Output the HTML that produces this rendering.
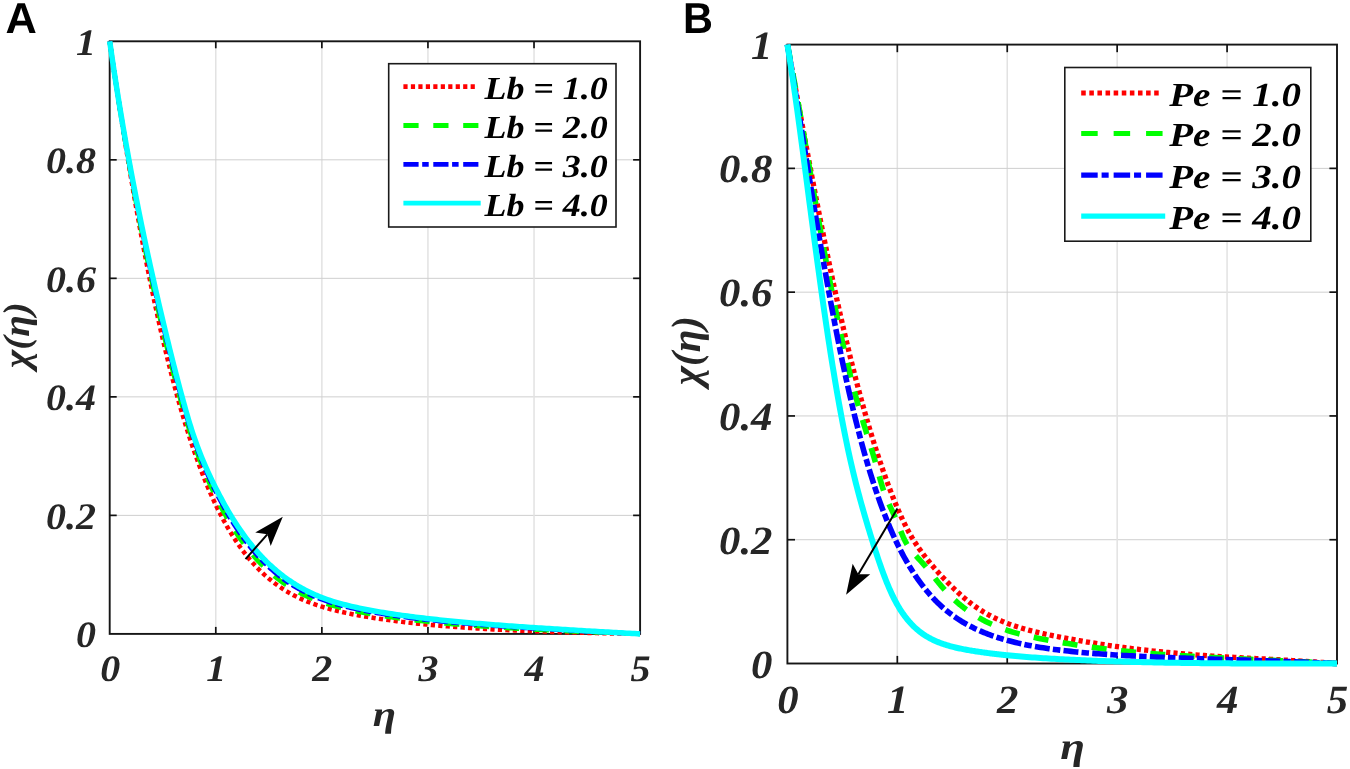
<!DOCTYPE html>
<html lang="en"><head><meta charset="utf-8"><title>Figure</title>
<style>
html,body{margin:0;padding:0;background:#fff;}
body{width:1350px;height:769px;overflow:hidden;}
svg{display:block;}
text{text-rendering:geometricPrecision;}
.gv{stroke:#e2e2e2;stroke-width:1.5;}
.gh{stroke:#cfcfcf;stroke-width:1.0;}
.frame{fill:none;stroke:#161616;stroke-width:1.9;}
.tick{stroke:#111;stroke-width:1.7;}
.tl{font-family:"Liberation Serif", "DejaVu Serif", serif;font-weight:bold;font-style:italic;fill:#262626;}
.lt{font-family:"Liberation Serif", "DejaVu Serif", serif;font-weight:bold;font-style:italic;fill:#000;}
.pl{font-family:"Liberation Sans", "DejaVu Sans", sans-serif;font-weight:bold;fill:#000;}
.cv{fill:none;stroke-linejoin:round;}
.lbox{fill:#fff;stroke:#1a1a1a;stroke-width:1.6;}
</style></head><body>
<svg width="1350" height="769" viewBox="0 0 1350 769">
<rect width="1350" height="769" fill="#fff"/>

<g id="panelA">
<line x1="215.78" y1="41.3" x2="215.78" y2="633.9" class="gv"/>
<line x1="109.7" y1="515.38" x2="640.1" y2="515.38" class="gh"/>
<line x1="321.86" y1="41.3" x2="321.86" y2="633.9" class="gv"/>
<line x1="109.7" y1="396.86" x2="640.1" y2="396.86" class="gh"/>
<line x1="427.94" y1="41.3" x2="427.94" y2="633.9" class="gv"/>
<line x1="109.7" y1="278.34" x2="640.1" y2="278.34" class="gh"/>
<line x1="534.02" y1="41.3" x2="534.02" y2="633.9" class="gv"/>
<line x1="109.7" y1="159.82" x2="640.1" y2="159.82" class="gh"/>
<rect x="109.7" y="41.3" width="530.40" height="592.60" class="frame"/>
<line x1="215.78" y1="633.9" x2="215.78" y2="626.9" class="tick"/>
<line x1="215.78" y1="41.3" x2="215.78" y2="48.3" class="tick"/>
<line x1="109.7" y1="515.38" x2="116.7" y2="515.38" class="tick"/>
<line x1="640.1" y1="515.38" x2="633.1" y2="515.38" class="tick"/>
<line x1="321.86" y1="633.9" x2="321.86" y2="626.9" class="tick"/>
<line x1="321.86" y1="41.3" x2="321.86" y2="48.3" class="tick"/>
<line x1="109.7" y1="396.86" x2="116.7" y2="396.86" class="tick"/>
<line x1="640.1" y1="396.86" x2="633.1" y2="396.86" class="tick"/>
<line x1="427.94" y1="633.9" x2="427.94" y2="626.9" class="tick"/>
<line x1="427.94" y1="41.3" x2="427.94" y2="48.3" class="tick"/>
<line x1="109.7" y1="278.34" x2="116.7" y2="278.34" class="tick"/>
<line x1="640.1" y1="278.34" x2="633.1" y2="278.34" class="tick"/>
<line x1="534.02" y1="633.9" x2="534.02" y2="626.9" class="tick"/>
<line x1="534.02" y1="41.3" x2="534.02" y2="48.3" class="tick"/>
<line x1="109.7" y1="159.82" x2="116.7" y2="159.82" class="tick"/>
<line x1="640.1" y1="159.82" x2="633.1" y2="159.82" class="tick"/>
<path d="M109.70 41.30 L110.77 48.65 L111.83 55.94 L112.90 63.18 L113.96 70.37 L115.03 77.51 L116.10 84.60 L117.16 91.63 L118.23 98.61 L119.30 105.53 L120.36 112.39 L121.43 119.21 L122.49 125.96 L123.56 132.66 L124.63 139.31 L125.69 145.89 L126.76 152.43 L127.82 158.90 L128.89 165.32 L129.96 171.68 L131.02 177.98 L132.09 184.22 L133.15 190.41 L134.22 196.53 L135.29 202.60 L136.35 208.62 L137.42 214.57 L138.49 220.47 L139.55 226.30 L140.62 232.08 L141.68 237.80 L142.75 243.47 L143.82 249.07 L144.88 254.62 L145.95 260.10 L147.01 265.54 L148.08 270.91 L149.15 276.22 L150.21 281.48 L151.28 286.68 L152.35 291.83 L153.41 296.91 L154.48 301.94 L155.54 306.91 L156.61 311.83 L157.68 316.69 L158.74 321.49 L159.81 326.24 L160.87 330.94 L161.94 335.57 L163.01 340.16 L164.07 344.69 L165.14 349.16 L166.20 353.58 L167.27 357.95 L168.34 362.26 L169.40 366.52 L170.47 370.73 L171.54 374.88 L172.60 378.98 L173.67 383.03 L174.73 387.03 L175.80 390.98 L176.87 394.88 L177.93 398.73 L179.00 402.52 L180.06 406.27 L181.13 409.97 L182.20 413.62 L183.26 417.21 L184.33 420.76 L185.40 424.26 L186.46 427.72 L187.53 431.12 L188.59 434.47 L189.66 437.78 L190.73 441.04 L191.79 444.25 L192.86 447.42 L193.92 450.54 L194.99 453.61 L196.06 456.64 L197.12 459.62 L198.19 462.56 L199.25 465.45 L200.32 468.30 L201.39 471.10 L202.45 473.86 L203.52 476.58 L204.59 479.25 L205.65 481.88 L206.72 484.47 L207.78 487.02 L208.85 489.53 L209.92 492.00 L210.98 494.43 L212.05 496.81 L213.11 499.16 L214.18 501.47 L215.25 503.74 L216.31 505.98 L217.38 508.17 L218.45 510.33 L219.51 512.46 L220.58 514.55 L221.64 516.60 L222.71 518.61 L223.78 520.60 L224.84 522.55 L225.91 524.46 L226.97 526.34 L228.04 528.19 L229.11 530.01 L230.17 531.79 L231.24 533.54 L232.31 535.27 L233.37 536.96 L234.44 538.62 L235.50 540.25 L236.57 541.85 L237.64 543.43 L238.70 544.97 L239.77 546.49 L240.83 547.98 L241.90 549.45 L242.97 550.88 L244.03 552.29 L245.10 553.68 L246.16 555.03 L247.23 556.37 L248.30 557.68 L249.36 558.96 L250.43 560.22 L251.50 561.46 L252.56 562.67 L253.63 563.86 L254.69 565.03 L255.76 566.18 L256.83 567.30 L257.89 568.41 L258.96 569.49 L260.02 570.55 L261.09 571.59 L262.16 572.61 L263.22 573.62 L264.29 574.60 L265.36 575.56 L266.42 576.51 L267.49 577.44 L268.55 578.35 L269.62 579.24 L270.69 580.11 L271.75 580.97 L272.82 581.81 L273.88 582.63 L274.95 583.44 L276.02 584.24 L277.08 585.01 L278.15 585.77 L279.21 586.52 L280.28 587.25 L281.35 587.97 L282.41 588.67 L283.48 589.36 L284.55 590.04 L285.61 590.70 L286.68 591.35 L287.74 591.98 L288.81 592.60 L289.88 593.21 L290.94 593.81 L292.01 594.39 L293.07 594.97 L294.14 595.53 L295.21 596.08 L296.27 596.61 L297.34 597.14 L298.41 597.66 L299.47 598.16 L300.54 598.65 L301.60 599.14 L302.67 599.61 L303.74 600.07 L304.80 600.53 L305.87 600.97 L306.93 601.41 L308.00 601.84 L309.07 602.26 L310.13 602.67 L311.20 603.07 L312.26 603.46 L313.33 603.85 L314.40 604.23 L315.46 604.60 L316.53 604.97 L317.60 605.33 L318.66 605.68 L319.73 606.02 L320.79 606.36 L321.86 606.69 L324.53 607.50 L327.21 608.28 L329.88 609.02 L332.56 609.72 L335.23 610.40 L337.91 611.06 L340.58 611.68 L343.25 612.29 L345.93 612.87 L348.60 613.43 L351.28 613.97 L353.95 614.50 L356.63 615.01 L359.30 615.50 L361.97 615.98 L364.65 616.45 L367.32 616.90 L370.00 617.34 L372.67 617.77 L375.35 618.19 L378.02 618.60 L380.69 619.00 L383.37 619.39 L386.04 619.77 L388.72 620.14 L391.39 620.50 L394.07 620.86 L396.74 621.20 L399.41 621.53 L402.09 621.86 L404.76 622.18 L407.44 622.49 L410.11 622.79 L412.79 623.09 L415.46 623.38 L418.13 623.66 L420.81 623.94 L423.48 624.21 L426.16 624.47 L428.83 624.73 L431.51 624.98 L434.18 625.22 L436.85 625.46 L439.53 625.69 L442.20 625.92 L444.88 626.14 L447.55 626.36 L450.23 626.57 L452.90 626.78 L455.57 626.98 L458.25 627.18 L460.92 627.37 L463.60 627.56 L466.27 627.75 L468.95 627.93 L471.62 628.10 L474.29 628.28 L476.97 628.44 L479.64 628.61 L482.32 628.77 L484.99 628.93 L487.67 629.08 L490.34 629.23 L493.01 629.38 L495.69 629.52 L498.36 629.66 L501.04 629.80 L503.71 629.93 L506.39 630.06 L509.06 630.19 L511.73 630.32 L514.41 630.44 L517.08 630.56 L519.76 630.67 L522.43 630.79 L525.11 630.90 L527.78 631.01 L530.45 631.12 L533.13 631.22 L535.80 631.32 L538.48 631.42 L541.15 631.52 L543.83 631.62 L546.50 631.71 L549.17 631.80 L551.85 631.89 L554.52 631.98 L557.20 632.06 L559.87 632.14 L562.55 632.22 L565.22 632.30 L567.89 632.38 L570.57 632.46 L573.24 632.53 L575.92 632.60 L578.59 632.67 L581.27 632.74 L583.94 632.81 L586.61 632.88 L589.29 632.94 L591.96 633.00 L594.64 633.06 L597.31 633.12 L599.99 633.18 L602.66 633.24 L605.33 633.29 L608.01 633.35 L610.68 633.40 L613.36 633.45 L616.03 633.50 L618.71 633.55 L621.38 633.60 L624.05 633.65 L626.73 633.69 L629.40 633.73 L632.08 633.78 L634.75 633.82 L637.43 633.86 L640.10 633.90" stroke="#ff0000" stroke-width="4.5" stroke-dasharray="4.20 3.27" class="cv"/>
<path d="M109.70 41.30 L110.77 48.68 L111.83 55.98 L112.90 63.20 L113.96 70.34 L115.03 77.40 L116.10 84.38 L117.16 91.28 L118.23 98.12 L119.30 104.87 L120.36 111.56 L121.43 118.18 L122.49 124.72 L123.56 131.20 L124.63 137.61 L125.69 143.96 L126.76 150.24 L127.82 156.45 L128.89 162.61 L129.96 168.70 L131.02 174.73 L132.09 180.70 L133.15 186.61 L134.22 192.47 L135.29 198.26 L136.35 204.00 L137.42 209.69 L138.49 215.32 L139.55 220.89 L140.62 226.42 L141.68 231.89 L142.75 237.30 L143.82 242.67 L144.88 247.98 L145.95 253.25 L147.01 258.47 L148.08 263.63 L149.15 268.75 L150.21 273.82 L151.28 278.85 L152.35 283.83 L153.41 288.76 L154.48 293.65 L155.54 298.49 L156.61 303.29 L157.68 308.04 L158.74 312.75 L159.81 317.41 L160.87 322.04 L161.94 326.62 L163.01 331.16 L164.07 335.66 L165.14 340.11 L166.20 344.53 L167.27 348.90 L168.34 353.24 L169.40 357.53 L170.47 361.78 L171.54 365.99 L172.60 370.16 L173.67 374.29 L174.73 378.37 L175.80 382.42 L176.87 386.42 L177.93 390.38 L179.00 394.29 L180.06 398.17 L181.13 402.00 L182.20 405.78 L183.26 409.53 L184.33 413.23 L185.40 416.88 L186.46 420.48 L187.53 424.02 L188.59 427.50 L189.66 430.92 L190.73 434.26 L191.79 437.53 L192.86 440.74 L193.92 443.87 L194.99 446.95 L196.06 449.96 L197.12 452.91 L198.19 455.81 L199.25 458.65 L200.32 461.43 L201.39 464.17 L202.45 466.85 L203.52 469.49 L204.59 472.08 L205.65 474.62 L206.72 477.13 L207.78 479.59 L208.85 482.01 L209.92 484.39 L210.98 486.73 L212.05 489.04 L213.11 491.31 L214.18 493.55 L215.25 495.76 L216.31 497.93 L217.38 500.08 L218.45 502.19 L219.51 504.27 L220.58 506.32 L221.64 508.34 L222.71 510.34 L223.78 512.30 L224.84 514.23 L225.91 516.13 L226.97 518.00 L228.04 519.85 L229.11 521.66 L230.17 523.45 L231.24 525.20 L232.31 526.93 L233.37 528.63 L234.44 530.30 L235.50 531.95 L236.57 533.57 L237.64 535.16 L238.70 536.73 L239.77 538.27 L240.83 539.78 L241.90 541.27 L242.97 542.74 L244.03 544.18 L245.10 545.60 L246.16 546.99 L247.23 548.36 L248.30 549.70 L249.36 551.03 L250.43 552.33 L251.50 553.61 L252.56 554.86 L253.63 556.10 L254.69 557.31 L255.76 558.50 L256.83 559.68 L257.89 560.83 L258.96 561.96 L260.02 563.07 L261.09 564.16 L262.16 565.24 L263.22 566.29 L264.29 567.33 L265.36 568.34 L266.42 569.34 L267.49 570.32 L268.55 571.29 L269.62 572.24 L270.69 573.17 L271.75 574.08 L272.82 574.98 L273.88 575.86 L274.95 576.72 L276.02 577.57 L277.08 578.41 L278.15 579.22 L279.21 580.03 L280.28 580.82 L281.35 581.59 L282.41 582.35 L283.48 583.10 L284.55 583.83 L285.61 584.55 L286.68 585.26 L287.74 585.95 L288.81 586.63 L289.88 587.30 L290.94 587.95 L292.01 588.59 L293.07 589.22 L294.14 589.84 L295.21 590.44 L296.27 591.04 L297.34 591.62 L298.41 592.19 L299.47 592.75 L300.54 593.30 L301.60 593.84 L302.67 594.37 L303.74 594.88 L304.80 595.39 L305.87 595.89 L306.93 596.38 L308.00 596.86 L309.07 597.33 L310.13 597.79 L311.20 598.24 L312.26 598.68 L313.33 599.12 L314.40 599.54 L315.46 599.96 L316.53 600.37 L317.60 600.77 L318.66 601.16 L319.73 601.55 L320.79 601.93 L321.86 602.30 L324.53 603.20 L327.21 604.06 L329.88 604.88 L332.56 605.66 L335.23 606.41 L337.91 607.12 L340.58 607.81 L343.25 608.47 L345.93 609.10 L348.60 609.71 L351.28 610.30 L353.95 610.87 L356.63 611.41 L359.30 611.94 L361.97 612.46 L364.65 612.96 L367.32 613.45 L370.00 613.92 L372.67 614.38 L375.35 614.83 L378.02 615.27 L380.69 615.69 L383.37 616.11 L386.04 616.51 L388.72 616.91 L391.39 617.30 L394.07 617.67 L396.74 618.04 L399.41 618.40 L402.09 618.75 L404.76 619.09 L407.44 619.42 L410.11 619.75 L412.79 620.07 L415.46 620.38 L418.13 620.68 L420.81 620.98 L423.48 621.27 L426.16 621.56 L428.83 621.84 L431.51 622.11 L434.18 622.38 L436.85 622.64 L439.53 622.90 L442.20 623.15 L444.88 623.40 L447.55 623.64 L450.23 623.88 L452.90 624.11 L455.57 624.34 L458.25 624.56 L460.92 624.78 L463.60 625.00 L466.27 625.21 L468.95 625.41 L471.62 625.62 L474.29 625.82 L476.97 626.01 L479.64 626.21 L482.32 626.40 L484.99 626.58 L487.67 626.77 L490.34 626.95 L493.01 627.12 L495.69 627.30 L498.36 627.47 L501.04 627.64 L503.71 627.80 L506.39 627.96 L509.06 628.12 L511.73 628.28 L514.41 628.44 L517.08 628.59 L519.76 628.74 L522.43 628.89 L525.11 629.04 L527.78 629.18 L530.45 629.32 L533.13 629.46 L535.80 629.60 L538.48 629.74 L541.15 629.87 L543.83 630.01 L546.50 630.14 L549.17 630.27 L551.85 630.39 L554.52 630.52 L557.20 630.64 L559.87 630.77 L562.55 630.89 L565.22 631.01 L567.89 631.13 L570.57 631.24 L573.24 631.36 L575.92 631.47 L578.59 631.59 L581.27 631.70 L583.94 631.81 L586.61 631.92 L589.29 632.03 L591.96 632.14 L594.64 632.24 L597.31 632.35 L599.99 632.45 L602.66 632.55 L605.33 632.66 L608.01 632.76 L610.68 632.86 L613.36 632.96 L616.03 633.06 L618.71 633.15 L621.38 633.25 L624.05 633.34 L626.73 633.44 L629.40 633.53 L632.08 633.63 L634.75 633.72 L637.43 633.81 L640.10 633.90" stroke="#00ff00" stroke-width="4.6" stroke-dasharray="15.20 14.70" class="cv"/>
<path d="M109.70 41.30 L110.77 48.71 L111.83 56.01 L112.90 63.21 L113.96 70.31 L115.03 77.32 L116.10 84.24 L117.16 91.06 L118.23 97.80 L119.30 104.45 L120.36 111.02 L121.43 117.51 L122.49 123.92 L123.56 130.26 L124.63 136.52 L125.69 142.71 L126.76 148.83 L127.82 154.88 L128.89 160.86 L129.96 166.78 L131.02 172.64 L132.09 178.43 L133.15 184.17 L134.22 189.84 L135.29 195.46 L136.35 201.03 L137.42 206.54 L138.49 211.99 L139.55 217.40 L140.62 222.76 L141.68 228.06 L142.75 233.32 L143.82 238.53 L144.88 243.70 L145.95 248.82 L147.01 253.90 L148.08 258.93 L149.15 263.93 L150.21 268.88 L151.28 273.79 L152.35 278.66 L153.41 283.49 L154.48 288.29 L155.54 293.05 L156.61 297.77 L157.68 302.45 L158.74 307.10 L159.81 311.71 L160.87 316.29 L161.94 320.84 L163.01 325.35 L164.07 329.83 L165.14 334.27 L166.20 338.68 L167.27 343.06 L168.34 347.41 L169.40 351.73 L170.47 356.01 L171.54 360.25 L172.60 364.46 L173.67 368.64 L174.73 372.78 L175.80 376.88 L176.87 380.95 L177.93 384.98 L179.00 388.98 L180.06 392.93 L181.13 396.85 L182.20 400.73 L183.26 404.56 L184.33 408.36 L185.40 412.11 L186.46 415.81 L187.53 419.44 L188.59 423.00 L189.66 426.48 L190.73 429.88 L191.79 433.19 L192.86 436.42 L193.92 439.57 L194.99 442.64 L196.06 445.64 L197.12 448.58 L198.19 451.45 L199.25 454.25 L200.32 457.00 L201.39 459.69 L202.45 462.32 L203.52 464.91 L204.59 467.45 L205.65 469.94 L206.72 472.38 L207.78 474.78 L208.85 477.15 L209.92 479.47 L210.98 481.76 L212.05 484.02 L213.11 486.24 L214.18 488.44 L215.25 490.60 L216.31 492.74 L217.38 494.85 L218.45 496.93 L219.51 498.98 L220.58 501.01 L221.64 503.01 L222.71 504.99 L223.78 506.94 L224.84 508.86 L225.91 510.75 L226.97 512.62 L228.04 514.46 L229.11 516.27 L230.17 518.05 L231.24 519.81 L232.31 521.55 L233.37 523.25 L234.44 524.93 L235.50 526.59 L236.57 528.22 L237.64 529.82 L238.70 531.40 L239.77 532.96 L240.83 534.49 L241.90 536.00 L242.97 537.48 L244.03 538.94 L245.10 540.38 L246.16 541.79 L247.23 543.19 L248.30 544.56 L249.36 545.90 L250.43 547.23 L251.50 548.53 L252.56 549.82 L253.63 551.08 L254.69 552.32 L255.76 553.55 L256.83 554.75 L257.89 555.93 L258.96 557.09 L260.02 558.24 L261.09 559.36 L262.16 560.47 L263.22 561.56 L264.29 562.63 L265.36 563.68 L266.42 564.71 L267.49 565.73 L268.55 566.73 L269.62 567.71 L270.69 568.68 L271.75 569.63 L272.82 570.56 L273.88 571.48 L274.95 572.38 L276.02 573.27 L277.08 574.14 L278.15 575.00 L279.21 575.84 L280.28 576.66 L281.35 577.47 L282.41 578.27 L283.48 579.06 L284.55 579.83 L285.61 580.58 L286.68 581.32 L287.74 582.05 L288.81 582.77 L289.88 583.47 L290.94 584.17 L292.01 584.84 L293.07 585.51 L294.14 586.16 L295.21 586.81 L296.27 587.44 L297.34 588.06 L298.41 588.66 L299.47 589.26 L300.54 589.84 L301.60 590.42 L302.67 590.98 L303.74 591.53 L304.80 592.08 L305.87 592.61 L306.93 593.13 L308.00 593.64 L309.07 594.14 L310.13 594.64 L311.20 595.12 L312.26 595.59 L313.33 596.06 L314.40 596.51 L315.46 596.96 L316.53 597.40 L317.60 597.83 L318.66 598.25 L319.73 598.66 L320.79 599.07 L321.86 599.46 L324.53 600.42 L327.21 601.34 L329.88 602.21 L332.56 603.04 L335.23 603.83 L337.91 604.58 L340.58 605.31 L343.25 606.00 L345.93 606.67 L348.60 607.31 L351.28 607.92 L353.95 608.52 L356.63 609.09 L359.30 609.65 L361.97 610.18 L364.65 610.71 L367.32 611.21 L370.00 611.71 L372.67 612.19 L375.35 612.66 L378.02 613.11 L380.69 613.56 L383.37 613.99 L386.04 614.41 L388.72 614.82 L391.39 615.22 L394.07 615.62 L396.74 616.00 L399.41 616.37 L402.09 616.74 L404.76 617.09 L407.44 617.44 L410.11 617.78 L412.79 618.11 L415.46 618.44 L418.13 618.76 L420.81 619.07 L423.48 619.38 L426.16 619.68 L428.83 619.97 L431.51 620.26 L434.18 620.54 L436.85 620.82 L439.53 621.09 L442.20 621.36 L444.88 621.62 L447.55 621.88 L450.23 622.14 L452.90 622.38 L455.57 622.63 L458.25 622.87 L460.92 623.11 L463.60 623.34 L466.27 623.57 L468.95 623.79 L471.62 624.01 L474.29 624.23 L476.97 624.44 L479.64 624.66 L482.32 624.86 L484.99 625.07 L487.67 625.27 L490.34 625.47 L493.01 625.67 L495.69 625.86 L498.36 626.05 L501.04 626.24 L503.71 626.43 L506.39 626.61 L509.06 626.79 L511.73 626.97 L514.41 627.15 L517.08 627.32 L519.76 627.49 L522.43 627.66 L525.11 627.83 L527.78 628.00 L530.45 628.16 L533.13 628.33 L535.80 628.49 L538.48 628.65 L541.15 628.81 L543.83 628.97 L546.50 629.12 L549.17 629.28 L551.85 629.43 L554.52 629.58 L557.20 629.73 L559.87 629.88 L562.55 630.03 L565.22 630.17 L567.89 630.32 L570.57 630.46 L573.24 630.60 L575.92 630.75 L578.59 630.89 L581.27 631.03 L583.94 631.17 L586.61 631.30 L589.29 631.44 L591.96 631.58 L594.64 631.71 L597.31 631.85 L599.99 631.98 L602.66 632.11 L605.33 632.25 L608.01 632.38 L610.68 632.51 L613.36 632.64 L616.03 632.77 L618.71 632.89 L621.38 633.02 L624.05 633.15 L626.73 633.28 L629.40 633.40 L632.08 633.53 L634.75 633.65 L637.43 633.78 L640.10 633.90" stroke="#0000ff" stroke-width="4.6" stroke-dasharray="15.20 3.20 7.60 3.30" class="cv"/>
<path d="M109.70 41.30 L110.77 48.72 L111.83 56.03 L112.90 63.22 L113.96 70.30 L115.03 77.27 L116.10 84.14 L117.16 90.91 L118.23 97.58 L119.30 104.17 L120.36 110.66 L121.43 117.06 L122.49 123.38 L123.56 129.62 L124.63 135.78 L125.69 141.86 L126.76 147.87 L127.82 153.81 L128.89 159.68 L129.96 165.48 L131.02 171.22 L132.09 176.89 L133.15 182.51 L134.22 188.06 L135.29 193.56 L136.35 199.01 L137.42 204.40 L138.49 209.74 L139.55 215.03 L140.62 220.28 L141.68 225.47 L142.75 230.63 L143.82 235.73 L144.88 240.80 L145.95 245.82 L147.01 250.81 L148.08 255.75 L149.15 260.66 L150.21 265.53 L151.28 270.36 L152.35 275.16 L153.41 279.93 L154.48 284.66 L155.54 289.36 L156.61 294.03 L157.68 298.67 L158.74 303.27 L159.81 307.85 L160.87 312.40 L161.94 316.92 L163.01 321.41 L164.07 325.88 L165.14 330.31 L166.20 334.72 L167.27 339.11 L168.34 343.46 L169.40 347.79 L170.47 352.09 L171.54 356.36 L172.60 360.60 L173.67 364.81 L174.73 368.99 L175.80 373.14 L176.87 377.25 L177.93 381.33 L179.00 385.37 L180.06 389.38 L181.13 393.36 L182.20 397.30 L183.26 401.20 L184.33 405.07 L185.40 408.89 L186.46 412.64 L187.53 416.34 L188.59 419.95 L189.66 423.48 L190.73 426.91 L191.79 430.25 L192.86 433.49 L193.92 436.65 L194.99 439.73 L196.06 442.72 L197.12 445.64 L198.19 448.49 L199.25 451.28 L200.32 454.00 L201.39 456.66 L202.45 459.26 L203.52 461.81 L204.59 464.31 L205.65 466.76 L206.72 469.17 L207.78 471.53 L208.85 473.86 L209.92 476.15 L210.98 478.40 L212.05 480.62 L213.11 482.81 L214.18 484.97 L215.25 487.11 L216.31 489.22 L217.38 491.30 L218.45 493.36 L219.51 495.40 L220.58 497.41 L221.64 499.40 L222.71 501.37 L223.78 503.30 L224.84 505.22 L225.91 507.11 L226.97 508.97 L228.04 510.81 L229.11 512.62 L230.17 514.40 L231.24 516.16 L232.31 517.90 L233.37 519.61 L234.44 521.30 L235.50 522.96 L236.57 524.59 L237.64 526.21 L238.70 527.80 L239.77 529.36 L240.83 530.90 L241.90 532.42 L242.97 533.92 L244.03 535.39 L245.10 536.84 L246.16 538.27 L247.23 539.68 L248.30 541.07 L249.36 542.43 L250.43 543.78 L251.50 545.10 L252.56 546.40 L253.63 547.68 L254.69 548.95 L255.76 550.19 L256.83 551.41 L257.89 552.62 L258.96 553.80 L260.02 554.97 L261.09 556.11 L262.16 557.24 L263.22 558.35 L264.29 559.45 L265.36 560.52 L266.42 561.58 L267.49 562.62 L268.55 563.64 L269.62 564.65 L270.69 565.64 L271.75 566.61 L272.82 567.57 L273.88 568.52 L274.95 569.44 L276.02 570.35 L277.08 571.25 L278.15 572.13 L279.21 573.00 L280.28 573.85 L281.35 574.68 L282.41 575.51 L283.48 576.32 L284.55 577.11 L285.61 577.89 L286.68 578.66 L287.74 579.42 L288.81 580.16 L289.88 580.89 L290.94 581.60 L292.01 582.31 L293.07 583.00 L294.14 583.68 L295.21 584.34 L296.27 585.00 L297.34 585.64 L298.41 586.27 L299.47 586.89 L300.54 587.50 L301.60 588.10 L302.67 588.69 L303.74 589.26 L304.80 589.83 L305.87 590.38 L306.93 590.93 L308.00 591.46 L309.07 591.99 L310.13 592.50 L311.20 593.01 L312.26 593.50 L313.33 593.99 L314.40 594.46 L315.46 594.93 L316.53 595.39 L317.60 595.84 L318.66 596.28 L319.73 596.71 L320.79 597.13 L321.86 597.54 L324.53 598.54 L327.21 599.49 L329.88 600.40 L332.56 601.26 L335.23 602.08 L337.91 602.86 L340.58 603.61 L343.25 604.33 L345.93 605.02 L348.60 605.68 L351.28 606.32 L353.95 606.93 L356.63 607.52 L359.30 608.09 L361.97 608.64 L364.65 609.18 L367.32 609.70 L370.00 610.21 L372.67 610.70 L375.35 611.18 L378.02 611.65 L380.69 612.11 L383.37 612.55 L386.04 612.99 L388.72 613.41 L391.39 613.82 L394.07 614.22 L396.74 614.62 L399.41 615.00 L402.09 615.37 L404.76 615.74 L407.44 616.10 L410.11 616.45 L412.79 616.79 L415.46 617.13 L418.13 617.46 L420.81 617.78 L423.48 618.09 L426.16 618.40 L428.83 618.71 L431.51 619.01 L434.18 619.30 L436.85 619.59 L439.53 619.87 L442.20 620.15 L444.88 620.42 L447.55 620.69 L450.23 620.96 L452.90 621.22 L455.57 621.47 L458.25 621.72 L460.92 621.97 L463.60 622.22 L466.27 622.46 L468.95 622.69 L471.62 622.93 L474.29 623.16 L476.97 623.38 L479.64 623.61 L482.32 623.83 L484.99 624.04 L487.67 624.26 L490.34 624.47 L493.01 624.68 L495.69 624.89 L498.36 625.09 L501.04 625.29 L503.71 625.49 L506.39 625.69 L509.06 625.89 L511.73 626.08 L514.41 626.27 L517.08 626.46 L519.76 626.65 L522.43 626.83 L525.11 627.02 L527.78 627.20 L530.45 627.38 L533.13 627.56 L535.80 627.74 L538.48 627.91 L541.15 628.09 L543.83 628.26 L546.50 628.43 L549.17 628.60 L551.85 628.77 L554.52 628.94 L557.20 629.11 L559.87 629.28 L562.55 629.44 L565.22 629.60 L567.89 629.77 L570.57 629.93 L573.24 630.09 L575.92 630.25 L578.59 630.41 L581.27 630.57 L583.94 630.73 L586.61 630.89 L589.29 631.04 L591.96 631.20 L594.64 631.35 L597.31 631.51 L599.99 631.66 L602.66 631.81 L605.33 631.97 L608.01 632.12 L610.68 632.27 L613.36 632.42 L616.03 632.57 L618.71 632.72 L621.38 632.87 L624.05 633.02 L626.73 633.17 L629.40 633.31 L632.08 633.46 L634.75 633.61 L637.43 633.75 L640.10 633.90" stroke="#00ffff" stroke-width="5.5" class="cv"/>
<text transform="translate(110.20,680.80) scale(1.07,1)" class="tl" font-size="37.4" text-anchor="middle" xml:space="preserve">0</text>
<text transform="translate(96.00,647.30) scale(1.07,1)" class="tl" font-size="37.4" text-anchor="end" xml:space="preserve">0</text>
<text transform="translate(216.28,680.80) scale(1.07,1)" class="tl" font-size="37.4" text-anchor="middle" xml:space="preserve">1</text>
<text transform="translate(96.00,528.78) scale(1.07,1)" class="tl" font-size="37.4" text-anchor="end" xml:space="preserve">0.2</text>
<text transform="translate(322.36,680.80) scale(1.07,1)" class="tl" font-size="37.4" text-anchor="middle" xml:space="preserve">2</text>
<text transform="translate(96.00,410.26) scale(1.07,1)" class="tl" font-size="37.4" text-anchor="end" xml:space="preserve">0.4</text>
<text transform="translate(428.44,680.80) scale(1.07,1)" class="tl" font-size="37.4" text-anchor="middle" xml:space="preserve">3</text>
<text transform="translate(96.00,291.74) scale(1.07,1)" class="tl" font-size="37.4" text-anchor="end" xml:space="preserve">0.6</text>
<text transform="translate(534.52,680.80) scale(1.07,1)" class="tl" font-size="37.4" text-anchor="middle" xml:space="preserve">4</text>
<text transform="translate(96.00,173.22) scale(1.07,1)" class="tl" font-size="37.4" text-anchor="end" xml:space="preserve">0.8</text>
<text transform="translate(640.60,680.80) scale(1.07,1)" class="tl" font-size="37.4" text-anchor="middle" xml:space="preserve">5</text>
<text transform="translate(96.00,54.70) scale(1.07,1)" class="tl" font-size="37.4" text-anchor="end" xml:space="preserve">1</text>
<rect x="388.7" y="63.7" width="227.30" height="163.30" class="lbox"/>
<line x1="403.4" y1="86.6" x2="474.83" y2="86.6" stroke="#ff0000" stroke-width="4.8" stroke-dasharray="4.20 3.27"/>
<text transform="translate(484.40,99.40) scale(1.118,1)" class="lt" font-size="32.2" text-anchor="start" xml:space="preserve">Lb = 1.0</text>
<line x1="403.4" y1="125.5" x2="480.70" y2="125.5" stroke="#00ff00" stroke-width="4.8" stroke-dasharray="15.20 14.70"/>
<text transform="translate(484.40,138.30) scale(1.118,1)" class="lt" font-size="32.2" text-anchor="start" xml:space="preserve">Lb = 2.0</text>
<line x1="403.4" y1="164.3" x2="480.70" y2="164.3" stroke="#0000ff" stroke-width="4.8" stroke-dasharray="15.20 3.60 6.50 4.60"/>
<text transform="translate(484.40,177.10) scale(1.118,1)" class="lt" font-size="32.2" text-anchor="start" xml:space="preserve">Lb = 3.0</text>
<line x1="403.4" y1="203.2" x2="480.70" y2="203.2" stroke="#00ffff" stroke-width="4.8"/>
<text transform="translate(484.40,216.00) scale(1.118,1)" class="lt" font-size="32.2" text-anchor="start" xml:space="preserve">Lb = 4.0</text>
<line x1="245.50" y1="559.10" x2="267.32" y2="534.35" stroke="#000" stroke-width="2"/>
<polygon points="282.80,516.80 270.68,546.11 267.32,534.35 255.23,532.49" fill="#000"/>
<text transform="translate(5.60,32.70)" class="pl" font-size="43.4" text-anchor="start" xml:space="preserve">A</text>
<text transform="translate(28.70,335.00) rotate(-90) scale(1.045,1)" class="tl" font-size="37.5" text-anchor="middle" xml:space="preserve">χ(η)</text>
<text transform="translate(384.50,726.10) scale(1.18,1)" class="tl" font-size="36" text-anchor="middle" xml:space="preserve">η</text>
</g>
<g id="panelB">
<line x1="897.32" y1="44.6" x2="897.32" y2="663.5" class="gv"/>
<line x1="787.4" y1="539.72" x2="1337.0" y2="539.72" class="gh"/>
<line x1="1007.24" y1="44.6" x2="1007.24" y2="663.5" class="gv"/>
<line x1="787.4" y1="415.94" x2="1337.0" y2="415.94" class="gh"/>
<line x1="1117.16" y1="44.6" x2="1117.16" y2="663.5" class="gv"/>
<line x1="787.4" y1="292.16" x2="1337.0" y2="292.16" class="gh"/>
<line x1="1227.08" y1="44.6" x2="1227.08" y2="663.5" class="gv"/>
<line x1="787.4" y1="168.38" x2="1337.0" y2="168.38" class="gh"/>
<rect x="787.4" y="44.6" width="549.60" height="618.90" class="frame"/>
<line x1="897.32" y1="663.5" x2="897.32" y2="655.9" class="tick"/>
<line x1="897.32" y1="44.6" x2="897.32" y2="52.2" class="tick"/>
<line x1="787.4" y1="539.72" x2="795.0" y2="539.72" class="tick"/>
<line x1="1337.0" y1="539.72" x2="1329.4" y2="539.72" class="tick"/>
<line x1="1007.24" y1="663.5" x2="1007.24" y2="655.9" class="tick"/>
<line x1="1007.24" y1="44.6" x2="1007.24" y2="52.2" class="tick"/>
<line x1="787.4" y1="415.94" x2="795.0" y2="415.94" class="tick"/>
<line x1="1337.0" y1="415.94" x2="1329.4" y2="415.94" class="tick"/>
<line x1="1117.16" y1="663.5" x2="1117.16" y2="655.9" class="tick"/>
<line x1="1117.16" y1="44.6" x2="1117.16" y2="52.2" class="tick"/>
<line x1="787.4" y1="292.16" x2="795.0" y2="292.16" class="tick"/>
<line x1="1337.0" y1="292.16" x2="1329.4" y2="292.16" class="tick"/>
<line x1="1227.08" y1="663.5" x2="1227.08" y2="655.9" class="tick"/>
<line x1="1227.08" y1="44.6" x2="1227.08" y2="52.2" class="tick"/>
<line x1="787.4" y1="168.38" x2="795.0" y2="168.38" class="tick"/>
<line x1="1337.0" y1="168.38" x2="1329.4" y2="168.38" class="tick"/>
<path d="M787.40 44.60 L788.50 50.58 L789.61 56.57 L790.71 62.56 L791.82 68.56 L792.92 74.56 L794.03 80.57 L795.13 86.57 L796.24 92.57 L797.34 98.56 L798.45 104.55 L799.55 110.53 L800.66 116.51 L801.76 122.47 L802.87 128.42 L803.97 134.36 L805.08 140.28 L806.18 146.18 L807.29 152.07 L808.39 157.94 L809.49 163.79 L810.60 169.62 L811.70 175.43 L812.81 181.21 L813.91 186.97 L815.02 192.70 L816.12 198.40 L817.23 204.08 L818.33 209.73 L819.44 215.34 L820.54 220.93 L821.65 226.48 L822.75 232.01 L823.86 237.49 L824.96 242.95 L826.07 248.37 L827.17 253.75 L828.27 259.10 L829.38 264.41 L830.48 269.68 L831.59 274.91 L832.69 280.10 L833.80 285.26 L834.90 290.37 L836.01 295.44 L837.11 300.48 L838.22 305.47 L839.32 310.41 L840.43 315.32 L841.53 320.18 L842.64 325.00 L843.74 329.78 L844.85 334.51 L845.95 339.20 L847.06 343.84 L848.16 348.44 L849.26 353.00 L850.37 357.51 L851.47 361.97 L852.58 366.39 L853.68 370.77 L854.79 375.10 L855.89 379.38 L857.00 383.62 L858.10 387.81 L859.21 391.96 L860.31 396.06 L861.42 400.12 L862.52 404.13 L863.63 408.09 L864.73 412.01 L865.84 415.88 L866.94 419.71 L868.04 423.50 L869.15 427.23 L870.25 430.93 L871.36 434.58 L872.46 438.18 L873.57 441.74 L874.67 445.26 L875.78 448.73 L876.88 452.15 L877.99 455.54 L879.09 458.88 L880.20 462.18 L881.30 465.43 L882.41 468.64 L883.51 471.81 L884.62 474.94 L885.72 478.03 L886.83 481.07 L887.93 484.07 L889.03 487.04 L890.14 489.96 L891.24 492.84 L892.35 495.68 L893.45 498.47 L894.56 501.21 L895.66 503.91 L896.77 506.56 L897.87 509.16 L898.98 511.70 L900.08 514.20 L901.19 516.64 L902.29 519.02 L903.40 521.35 L904.50 523.63 L905.61 525.85 L906.71 528.01 L907.81 530.12 L908.92 532.17 L910.02 534.16 L911.13 536.09 L912.23 537.97 L913.34 539.79 L914.44 541.56 L915.55 543.28 L916.65 544.95 L917.76 546.59 L918.86 548.19 L919.97 549.76 L921.07 551.29 L922.18 552.81 L923.28 554.29 L924.39 555.76 L925.49 557.20 L926.60 558.61 L927.70 560.01 L928.80 561.39 L929.91 562.74 L931.01 564.08 L932.12 565.40 L933.22 566.70 L934.33 567.99 L935.43 569.26 L936.54 570.51 L937.64 571.75 L938.75 572.98 L939.85 574.19 L940.96 575.39 L942.06 576.58 L943.17 577.75 L944.27 578.92 L945.38 580.07 L946.48 581.22 L947.58 582.35 L948.69 583.47 L949.79 584.59 L950.90 585.69 L952.00 586.78 L953.11 587.86 L954.21 588.93 L955.32 589.98 L956.42 591.02 L957.53 592.05 L958.63 593.06 L959.74 594.06 L960.84 595.05 L961.95 596.02 L963.05 596.98 L964.16 597.92 L965.26 598.85 L966.37 599.76 L967.47 600.65 L968.57 601.54 L969.68 602.40 L970.78 603.25 L971.89 604.08 L972.99 604.90 L974.10 605.70 L975.20 606.48 L976.31 607.25 L977.41 608.01 L978.52 608.74 L979.62 609.46 L980.73 610.17 L981.83 610.86 L982.94 611.54 L984.04 612.20 L985.15 612.85 L986.25 613.49 L987.35 614.11 L988.46 614.72 L989.56 615.32 L990.67 615.90 L991.77 616.48 L992.88 617.04 L993.98 617.59 L995.09 618.12 L996.19 618.65 L997.30 619.17 L998.40 619.67 L999.51 620.16 L1000.61 620.65 L1001.72 621.12 L1002.82 621.59 L1003.93 622.04 L1005.03 622.49 L1006.14 622.92 L1007.24 623.35 L1010.01 624.38 L1012.78 625.36 L1015.55 626.29 L1018.32 627.17 L1021.10 628.01 L1023.87 628.82 L1026.64 629.59 L1029.41 630.33 L1032.18 631.04 L1034.95 631.72 L1037.72 632.38 L1040.49 633.02 L1043.26 633.64 L1046.04 634.24 L1048.81 634.82 L1051.58 635.39 L1054.35 635.95 L1057.12 636.50 L1059.89 637.04 L1062.66 637.57 L1065.43 638.10 L1068.20 638.62 L1070.98 639.13 L1073.75 639.64 L1076.52 640.14 L1079.29 640.63 L1082.06 641.11 L1084.83 641.59 L1087.60 642.06 L1090.37 642.53 L1093.14 642.98 L1095.91 643.43 L1098.69 643.87 L1101.46 644.31 L1104.23 644.73 L1107.00 645.15 L1109.77 645.56 L1112.54 645.96 L1115.31 646.36 L1118.08 646.74 L1120.85 647.12 L1123.63 647.49 L1126.40 647.85 L1129.17 648.21 L1131.94 648.55 L1134.71 648.89 L1137.48 649.23 L1140.25 649.55 L1143.02 649.87 L1145.79 650.19 L1148.57 650.49 L1151.34 650.79 L1154.11 651.09 L1156.88 651.37 L1159.65 651.66 L1162.42 651.93 L1165.19 652.20 L1167.96 652.47 L1170.73 652.73 L1173.51 652.98 L1176.28 653.23 L1179.05 653.47 L1181.82 653.71 L1184.59 653.94 L1187.36 654.17 L1190.13 654.39 L1192.90 654.61 L1195.67 654.83 L1198.45 655.04 L1201.22 655.24 L1203.99 655.44 L1206.76 655.64 L1209.53 655.83 L1212.30 656.02 L1215.07 656.20 L1217.84 656.38 L1220.61 656.56 L1223.39 656.73 L1226.16 656.90 L1228.93 657.07 L1231.70 657.23 L1234.47 657.39 L1237.24 657.54 L1240.01 657.70 L1242.78 657.85 L1245.55 658.00 L1248.33 658.15 L1251.10 658.29 L1253.87 658.44 L1256.64 658.59 L1259.41 658.73 L1262.18 658.88 L1264.95 659.02 L1267.72 659.17 L1270.49 659.32 L1273.26 659.46 L1276.04 659.61 L1278.81 659.76 L1281.58 659.92 L1284.35 660.07 L1287.12 660.23 L1289.89 660.38 L1292.66 660.54 L1295.43 660.71 L1298.20 660.87 L1300.98 661.04 L1303.75 661.21 L1306.52 661.38 L1309.29 661.56 L1312.06 661.74 L1314.83 661.92 L1317.60 662.11 L1320.37 662.30 L1323.14 662.49 L1325.92 662.69 L1328.69 662.89 L1331.46 663.09 L1334.23 663.29 L1337.00 663.50" stroke="#ff0000" stroke-width="5.3" stroke-dasharray="4.14 3.22" class="cv"/>
<path d="M787.40 44.60 L788.50 50.24 L789.61 55.98 L790.71 61.80 L791.82 67.69 L792.92 73.66 L794.03 79.70 L795.13 85.79 L796.24 91.94 L797.34 98.14 L798.45 104.38 L799.55 110.66 L800.66 116.97 L801.76 123.31 L802.87 129.68 L803.97 136.06 L805.08 142.45 L806.18 148.85 L807.29 155.26 L808.39 161.66 L809.49 168.06 L810.60 174.46 L811.70 180.84 L812.81 187.20 L813.91 193.54 L815.02 199.86 L816.12 206.16 L817.23 212.42 L818.33 218.65 L819.44 224.85 L820.54 231.00 L821.65 237.12 L822.75 243.19 L823.86 249.21 L824.96 255.19 L826.07 261.11 L827.17 266.98 L828.27 272.80 L829.38 278.56 L830.48 284.26 L831.59 289.90 L832.69 295.49 L833.80 301.00 L834.90 306.46 L836.01 311.85 L837.11 317.17 L838.22 322.42 L839.32 327.61 L840.43 332.73 L841.53 337.77 L842.64 342.75 L843.74 347.66 L844.85 352.50 L845.95 357.26 L847.06 361.95 L848.16 366.57 L849.26 371.12 L850.37 375.59 L851.47 379.99 L852.58 384.32 L853.68 388.58 L854.79 392.76 L855.89 396.87 L857.00 400.91 L858.10 404.88 L859.21 408.77 L860.31 412.60 L861.42 416.35 L862.52 420.03 L863.63 423.65 L864.73 427.23 L865.84 430.79 L866.94 434.33 L868.04 437.87 L869.15 441.42 L870.25 444.99 L871.36 448.59 L872.46 452.23 L873.57 455.93 L874.67 459.68 L875.78 463.50 L876.88 467.40 L877.99 471.37 L879.09 475.40 L880.20 479.42 L881.30 483.32 L882.41 487.01 L883.51 490.41 L884.62 493.54 L885.72 496.44 L886.83 499.16 L887.93 501.72 L889.03 504.18 L890.14 506.57 L891.24 508.91 L892.35 511.24 L893.45 513.59 L894.56 515.99 L895.66 518.47 L896.77 521.04 L897.87 523.72 L898.98 526.51 L900.08 529.32 L901.19 532.10 L902.29 534.79 L903.40 537.35 L904.50 539.71 L905.61 541.87 L906.71 543.85 L907.81 545.67 L908.92 547.35 L910.02 548.91 L911.13 550.36 L912.23 551.73 L913.34 553.02 L914.44 554.27 L915.55 555.47 L916.65 556.64 L917.76 557.81 L918.86 558.97 L919.97 560.15 L921.07 561.35 L922.18 562.58 L923.28 563.85 L924.39 565.15 L925.49 566.47 L926.60 567.81 L927.70 569.16 L928.80 570.53 L929.91 571.91 L931.01 573.29 L932.12 574.68 L933.22 576.07 L934.33 577.45 L935.43 578.83 L936.54 580.21 L937.64 581.57 L938.75 582.92 L939.85 584.26 L940.96 585.58 L942.06 586.88 L943.17 588.16 L944.27 589.42 L945.38 590.65 L946.48 591.86 L947.58 593.05 L948.69 594.21 L949.79 595.34 L950.90 596.45 L952.00 597.53 L953.11 598.59 L954.21 599.63 L955.32 600.64 L956.42 601.64 L957.53 602.61 L958.63 603.56 L959.74 604.49 L960.84 605.39 L961.95 606.28 L963.05 607.15 L964.16 608.01 L965.26 608.84 L966.37 609.65 L967.47 610.45 L968.57 611.23 L969.68 612.00 L970.78 612.75 L971.89 613.48 L972.99 614.20 L974.10 614.90 L975.20 615.59 L976.31 616.26 L977.41 616.92 L978.52 617.56 L979.62 618.19 L980.73 618.81 L981.83 619.42 L982.94 620.01 L984.04 620.59 L985.15 621.16 L986.25 621.71 L987.35 622.26 L988.46 622.79 L989.56 623.31 L990.67 623.82 L991.77 624.32 L992.88 624.81 L993.98 625.29 L995.09 625.76 L996.19 626.22 L997.30 626.67 L998.40 627.11 L999.51 627.54 L1000.61 627.96 L1001.72 628.38 L1002.82 628.78 L1003.93 629.18 L1005.03 629.57 L1006.14 629.95 L1007.24 630.32 L1010.01 631.22 L1012.78 632.07 L1015.55 632.88 L1018.32 633.65 L1021.10 634.38 L1023.87 635.09 L1026.64 635.76 L1029.41 636.40 L1032.18 637.02 L1034.95 637.61 L1037.72 638.19 L1040.49 638.74 L1043.26 639.28 L1046.04 639.80 L1048.81 640.31 L1051.58 640.80 L1054.35 641.29 L1057.12 641.77 L1059.89 642.24 L1062.66 642.70 L1065.43 643.16 L1068.20 643.61 L1070.98 644.06 L1073.75 644.50 L1076.52 644.93 L1079.29 645.36 L1082.06 645.78 L1084.83 646.19 L1087.60 646.60 L1090.37 646.99 L1093.14 647.38 L1095.91 647.76 L1098.69 648.13 L1101.46 648.50 L1104.23 648.85 L1107.00 649.20 L1109.77 649.54 L1112.54 649.87 L1115.31 650.18 L1118.08 650.49 L1120.85 650.79 L1123.63 651.09 L1126.40 651.37 L1129.17 651.65 L1131.94 651.91 L1134.71 652.17 L1137.48 652.43 L1140.25 652.67 L1143.02 652.91 L1145.79 653.15 L1148.57 653.37 L1151.34 653.59 L1154.11 653.81 L1156.88 654.02 L1159.65 654.23 L1162.42 654.43 L1165.19 654.62 L1167.96 654.82 L1170.73 655.00 L1173.51 655.19 L1176.28 655.37 L1179.05 655.54 L1181.82 655.72 L1184.59 655.88 L1187.36 656.05 L1190.13 656.21 L1192.90 656.37 L1195.67 656.53 L1198.45 656.69 L1201.22 656.84 L1203.99 656.99 L1206.76 657.14 L1209.53 657.28 L1212.30 657.43 L1215.07 657.57 L1217.84 657.71 L1220.61 657.85 L1223.39 657.99 L1226.16 658.13 L1228.93 658.26 L1231.70 658.40 L1234.47 658.53 L1237.24 658.67 L1240.01 658.80 L1242.78 658.93 L1245.55 659.06 L1248.33 659.19 L1251.10 659.32 L1253.87 659.45 L1256.64 659.58 L1259.41 659.71 L1262.18 659.84 L1264.95 659.97 L1267.72 660.10 L1270.49 660.23 L1273.26 660.36 L1276.04 660.49 L1278.81 660.62 L1281.58 660.75 L1284.35 660.88 L1287.12 661.01 L1289.89 661.14 L1292.66 661.28 L1295.43 661.41 L1298.20 661.54 L1300.98 661.68 L1303.75 661.81 L1306.52 661.95 L1309.29 662.09 L1312.06 662.22 L1314.83 662.36 L1317.60 662.50 L1320.37 662.64 L1323.14 662.78 L1325.92 662.92 L1328.69 663.07 L1331.46 663.21 L1334.23 663.35 L1337.00 663.50" stroke="#00ff00" stroke-width="5.6" stroke-dasharray="14.97 14.48" class="cv"/>
<path d="M787.40 44.60 L788.50 51.04 L789.61 57.53 L790.71 64.08 L791.82 70.67 L792.92 77.30 L794.03 83.97 L795.13 90.67 L796.24 97.40 L797.34 104.15 L798.45 110.92 L799.55 117.70 L800.66 124.50 L801.76 131.31 L802.87 138.12 L803.97 144.93 L805.08 151.73 L806.18 158.54 L807.29 165.33 L808.39 172.10 L809.49 178.86 L810.60 185.61 L811.70 192.33 L812.81 199.02 L813.91 205.69 L815.02 212.32 L816.12 218.92 L817.23 225.49 L818.33 232.02 L819.44 238.51 L820.54 244.96 L821.65 251.36 L822.75 257.72 L823.86 264.03 L824.96 270.29 L826.07 276.49 L827.17 282.65 L828.27 288.75 L829.38 294.79 L830.48 300.78 L831.59 306.71 L832.69 312.58 L833.80 318.38 L834.90 324.13 L836.01 329.82 L837.11 335.44 L838.22 340.99 L839.32 346.48 L840.43 351.91 L841.53 357.27 L842.64 362.56 L843.74 367.79 L844.85 372.95 L845.95 378.04 L847.06 383.06 L848.16 388.01 L849.26 392.90 L850.37 397.72 L851.47 402.47 L852.58 407.15 L853.68 411.76 L854.79 416.31 L855.89 420.78 L857.00 425.19 L858.10 429.53 L859.21 433.81 L860.31 438.01 L861.42 442.15 L862.52 446.23 L863.63 450.23 L864.73 454.17 L865.84 458.05 L866.94 461.86 L868.04 465.60 L869.15 469.29 L870.25 472.91 L871.36 476.46 L872.46 479.96 L873.57 483.39 L874.67 486.76 L875.78 490.07 L876.88 493.33 L877.99 496.52 L879.09 499.66 L880.20 502.74 L881.30 505.77 L882.41 508.74 L883.51 511.65 L884.62 514.52 L885.72 517.33 L886.83 520.08 L887.93 522.79 L889.03 525.44 L890.14 528.05 L891.24 530.61 L892.35 533.11 L893.45 535.57 L894.56 537.99 L895.66 540.36 L896.77 542.68 L897.87 544.96 L898.98 547.19 L900.08 549.38 L901.19 551.53 L902.29 553.63 L903.40 555.70 L904.50 557.72 L905.61 559.71 L906.71 561.65 L907.81 563.56 L908.92 565.43 L910.02 567.26 L911.13 569.06 L912.23 570.82 L913.34 572.54 L914.44 574.23 L915.55 575.88 L916.65 577.51 L917.76 579.10 L918.86 580.65 L919.97 582.18 L921.07 583.67 L922.18 585.14 L923.28 586.57 L924.39 587.97 L925.49 589.35 L926.60 590.70 L927.70 592.01 L928.80 593.31 L929.91 594.57 L931.01 595.81 L932.12 597.02 L933.22 598.21 L934.33 599.37 L935.43 600.51 L936.54 601.62 L937.64 602.71 L938.75 603.78 L939.85 604.82 L940.96 605.84 L942.06 606.84 L943.17 607.82 L944.27 608.78 L945.38 609.71 L946.48 610.63 L947.58 611.52 L948.69 612.40 L949.79 613.26 L950.90 614.10 L952.00 614.92 L953.11 615.72 L954.21 616.51 L955.32 617.28 L956.42 618.03 L957.53 618.77 L958.63 619.49 L959.74 620.20 L960.84 620.89 L961.95 621.57 L963.05 622.23 L964.16 622.88 L965.26 623.52 L966.37 624.14 L967.47 624.75 L968.57 625.35 L969.68 625.94 L970.78 626.51 L971.89 627.07 L972.99 627.62 L974.10 628.17 L975.20 628.69 L976.31 629.21 L977.41 629.72 L978.52 630.22 L979.62 630.71 L980.73 631.19 L981.83 631.66 L982.94 632.12 L984.04 632.58 L985.15 633.02 L986.25 633.46 L987.35 633.88 L988.46 634.30 L989.56 634.71 L990.67 635.11 L991.77 635.51 L992.88 635.90 L993.98 636.28 L995.09 636.65 L996.19 637.02 L997.30 637.38 L998.40 637.73 L999.51 638.08 L1000.61 638.42 L1001.72 638.75 L1002.82 639.08 L1003.93 639.40 L1005.03 639.72 L1006.14 640.03 L1007.24 640.33 L1010.01 641.07 L1012.78 641.78 L1015.55 642.46 L1018.32 643.11 L1021.10 643.73 L1023.87 644.32 L1026.64 644.89 L1029.41 645.43 L1032.18 645.95 L1034.95 646.45 L1037.72 646.93 L1040.49 647.39 L1043.26 647.83 L1046.04 648.25 L1048.81 648.66 L1051.58 649.05 L1054.35 649.42 L1057.12 649.78 L1059.89 650.13 L1062.66 650.46 L1065.43 650.78 L1068.20 651.09 L1070.98 651.39 L1073.75 651.67 L1076.52 651.95 L1079.29 652.21 L1082.06 652.47 L1084.83 652.72 L1087.60 652.95 L1090.37 653.18 L1093.14 653.41 L1095.91 653.62 L1098.69 653.83 L1101.46 654.03 L1104.23 654.23 L1107.00 654.41 L1109.77 654.60 L1112.54 654.78 L1115.31 654.95 L1118.08 655.12 L1120.85 655.28 L1123.63 655.44 L1126.40 655.60 L1129.17 655.75 L1131.94 655.90 L1134.71 656.04 L1137.48 656.18 L1140.25 656.32 L1143.02 656.46 L1145.79 656.59 L1148.57 656.71 L1151.34 656.84 L1154.11 656.96 L1156.88 657.08 L1159.65 657.20 L1162.42 657.32 L1165.19 657.43 L1167.96 657.54 L1170.73 657.65 L1173.51 657.76 L1176.28 657.86 L1179.05 657.96 L1181.82 658.07 L1184.59 658.17 L1187.36 658.27 L1190.13 658.36 L1192.90 658.46 L1195.67 658.56 L1198.45 658.65 L1201.22 658.74 L1203.99 658.84 L1206.76 658.93 L1209.53 659.02 L1212.30 659.11 L1215.07 659.20 L1217.84 659.29 L1220.61 659.38 L1223.39 659.47 L1226.16 659.56 L1228.93 659.64 L1231.70 659.73 L1234.47 659.82 L1237.24 659.91 L1240.01 660.00 L1242.78 660.08 L1245.55 660.17 L1248.33 660.26 L1251.10 660.35 L1253.87 660.44 L1256.64 660.53 L1259.41 660.62 L1262.18 660.71 L1264.95 660.80 L1267.72 660.89 L1270.49 660.99 L1273.26 661.08 L1276.04 661.17 L1278.81 661.27 L1281.58 661.37 L1284.35 661.46 L1287.12 661.56 L1289.89 661.66 L1292.66 661.76 L1295.43 661.86 L1298.20 661.96 L1300.98 662.06 L1303.75 662.17 L1306.52 662.27 L1309.29 662.38 L1312.06 662.48 L1314.83 662.59 L1317.60 662.70 L1320.37 662.81 L1323.14 662.92 L1325.92 663.04 L1328.69 663.15 L1331.46 663.27 L1334.23 663.38 L1337.00 663.50" stroke="#0000ff" stroke-width="5.6" stroke-dasharray="14.97 3.15 7.49 3.25" class="cv"/>
<path d="M787.40 44.60 L788.50 51.27 L789.61 58.15 L790.71 65.22 L791.82 72.46 L792.92 79.88 L794.03 87.44 L795.13 95.15 L796.24 102.98 L797.34 110.93 L798.45 118.97 L799.55 127.11 L800.66 135.32 L801.76 143.60 L802.87 151.94 L803.97 160.32 L805.08 168.73 L806.18 177.16 L807.29 185.61 L808.39 194.06 L809.49 202.51 L810.60 210.94 L811.70 219.35 L812.81 227.73 L813.91 236.07 L815.02 244.36 L816.12 252.60 L817.23 260.79 L818.33 268.90 L819.44 276.95 L820.54 284.92 L821.65 292.81 L822.75 300.61 L823.86 308.32 L824.96 315.94 L826.07 323.46 L827.17 330.88 L828.27 338.19 L829.38 345.40 L830.48 352.50 L831.59 359.48 L832.69 366.35 L833.80 373.11 L834.90 379.75 L836.01 386.26 L837.11 392.66 L838.22 398.94 L839.32 405.10 L840.43 411.14 L841.53 417.06 L842.64 422.85 L843.74 428.53 L844.85 434.08 L845.95 439.52 L847.06 444.83 L848.16 450.02 L849.26 455.10 L850.37 460.06 L851.47 464.90 L852.58 469.63 L853.68 474.24 L854.79 478.75 L855.89 483.15 L857.00 487.47 L858.10 491.70 L859.21 495.85 L860.31 499.92 L861.42 503.93 L862.52 507.88 L863.63 511.77 L864.73 515.60 L865.84 519.39 L866.94 523.12 L868.04 526.82 L869.15 530.47 L870.25 534.09 L871.36 537.67 L872.46 541.21 L873.57 544.73 L874.67 548.20 L875.78 551.63 L876.88 555.02 L877.99 558.34 L879.09 561.61 L880.20 564.82 L881.30 567.95 L882.41 571.02 L883.51 574.01 L884.62 576.93 L885.72 579.77 L886.83 582.53 L887.93 585.21 L889.03 587.81 L890.14 590.32 L891.24 592.76 L892.35 595.11 L893.45 597.38 L894.56 599.57 L895.66 601.67 L896.77 603.70 L897.87 605.65 L898.98 607.52 L900.08 609.32 L901.19 611.04 L902.29 612.70 L903.40 614.29 L904.50 615.82 L905.61 617.29 L906.71 618.70 L907.81 620.05 L908.92 621.35 L910.02 622.60 L911.13 623.81 L912.23 624.96 L913.34 626.07 L914.44 627.13 L915.55 628.15 L916.65 629.14 L917.76 630.08 L918.86 630.98 L919.97 631.85 L921.07 632.68 L922.18 633.48 L923.28 634.25 L924.39 634.99 L925.49 635.70 L926.60 636.38 L927.70 637.03 L928.80 637.66 L929.91 638.26 L931.01 638.84 L932.12 639.40 L933.22 639.94 L934.33 640.46 L935.43 640.95 L936.54 641.43 L937.64 641.90 L938.75 642.34 L939.85 642.77 L940.96 643.19 L942.06 643.59 L943.17 643.97 L944.27 644.35 L945.38 644.71 L946.48 645.05 L947.58 645.39 L948.69 645.72 L949.79 646.03 L950.90 646.33 L952.00 646.63 L953.11 646.91 L954.21 647.19 L955.32 647.46 L956.42 647.72 L957.53 647.97 L958.63 648.22 L959.74 648.45 L960.84 648.69 L961.95 648.91 L963.05 649.13 L964.16 649.35 L965.26 649.55 L966.37 649.76 L967.47 649.96 L968.57 650.15 L969.68 650.34 L970.78 650.53 L971.89 650.71 L972.99 650.89 L974.10 651.06 L975.20 651.24 L976.31 651.41 L977.41 651.58 L978.52 651.74 L979.62 651.90 L980.73 652.06 L981.83 652.22 L982.94 652.37 L984.04 652.53 L985.15 652.68 L986.25 652.83 L987.35 652.97 L988.46 653.12 L989.56 653.26 L990.67 653.40 L991.77 653.53 L992.88 653.67 L993.98 653.80 L995.09 653.93 L996.19 654.06 L997.30 654.19 L998.40 654.31 L999.51 654.44 L1000.61 654.56 L1001.72 654.68 L1002.82 654.80 L1003.93 654.91 L1005.03 655.03 L1006.14 655.14 L1007.24 655.25 L1010.01 655.53 L1012.78 655.79 L1015.55 656.04 L1018.32 656.29 L1021.10 656.53 L1023.87 656.75 L1026.64 656.98 L1029.41 657.19 L1032.18 657.40 L1034.95 657.60 L1037.72 657.79 L1040.49 657.98 L1043.26 658.16 L1046.04 658.34 L1048.81 658.51 L1051.58 658.67 L1054.35 658.84 L1057.12 658.99 L1059.89 659.14 L1062.66 659.29 L1065.43 659.44 L1068.20 659.58 L1070.98 659.71 L1073.75 659.84 L1076.52 659.97 L1079.29 660.10 L1082.06 660.22 L1084.83 660.34 L1087.60 660.45 L1090.37 660.57 L1093.14 660.67 L1095.91 660.78 L1098.69 660.88 L1101.46 660.98 L1104.23 661.08 L1107.00 661.18 L1109.77 661.27 L1112.54 661.36 L1115.31 661.44 L1118.08 661.53 L1120.85 661.61 L1123.63 661.69 L1126.40 661.77 L1129.17 661.84 L1131.94 661.91 L1134.71 661.99 L1137.48 662.05 L1140.25 662.12 L1143.02 662.18 L1145.79 662.25 L1148.57 662.31 L1151.34 662.37 L1154.11 662.42 L1156.88 662.48 L1159.65 662.53 L1162.42 662.58 L1165.19 662.63 L1167.96 662.68 L1170.73 662.72 L1173.51 662.77 L1176.28 662.81 L1179.05 662.85 L1181.82 662.89 L1184.59 662.93 L1187.36 662.97 L1190.13 663.01 L1192.90 663.04 L1195.67 663.07 L1198.45 663.11 L1201.22 663.14 L1203.99 663.16 L1206.76 663.19 L1209.53 663.22 L1212.30 663.24 L1215.07 663.27 L1217.84 663.29 L1220.61 663.31 L1223.39 663.34 L1226.16 663.36 L1228.93 663.37 L1231.70 663.39 L1234.47 663.41 L1237.24 663.42 L1240.01 663.44 L1242.78 663.45 L1245.55 663.47 L1248.33 663.48 L1251.10 663.49 L1253.87 663.50 L1256.64 663.50 L1259.41 663.50 L1262.18 663.50 L1264.95 663.50 L1267.72 663.50 L1270.49 663.50 L1273.26 663.50 L1276.04 663.50 L1278.81 663.50 L1281.58 663.50 L1284.35 663.50 L1287.12 663.50 L1289.89 663.50 L1292.66 663.50 L1295.43 663.50 L1298.20 663.50 L1300.98 663.50 L1303.75 663.50 L1306.52 663.50 L1309.29 663.50 L1312.06 663.50 L1314.83 663.50 L1317.60 663.50 L1320.37 663.50 L1323.14 663.50 L1325.92 663.50 L1328.69 663.50 L1331.46 663.50 L1334.23 663.50 L1337.00 663.50" stroke="#00ffff" stroke-width="6.0" class="cv"/>
<text transform="translate(787.90,713.00) scale(1.07,1)" class="tl" font-size="40" text-anchor="middle" xml:space="preserve">0</text>
<text transform="translate(772.50,677.60) scale(1.07,1)" class="tl" font-size="40" text-anchor="end" xml:space="preserve">0</text>
<text transform="translate(897.82,713.00) scale(1.07,1)" class="tl" font-size="40" text-anchor="middle" xml:space="preserve">1</text>
<text transform="translate(772.50,553.82) scale(1.07,1)" class="tl" font-size="40" text-anchor="end" xml:space="preserve">0.2</text>
<text transform="translate(1007.74,713.00) scale(1.07,1)" class="tl" font-size="40" text-anchor="middle" xml:space="preserve">2</text>
<text transform="translate(772.50,430.04) scale(1.07,1)" class="tl" font-size="40" text-anchor="end" xml:space="preserve">0.4</text>
<text transform="translate(1117.66,713.00) scale(1.07,1)" class="tl" font-size="40" text-anchor="middle" xml:space="preserve">3</text>
<text transform="translate(772.50,306.26) scale(1.07,1)" class="tl" font-size="40" text-anchor="end" xml:space="preserve">0.6</text>
<text transform="translate(1227.58,713.00) scale(1.07,1)" class="tl" font-size="40" text-anchor="middle" xml:space="preserve">4</text>
<text transform="translate(772.50,182.48) scale(1.07,1)" class="tl" font-size="40" text-anchor="end" xml:space="preserve">0.8</text>
<text transform="translate(1337.50,713.00) scale(1.07,1)" class="tl" font-size="40" text-anchor="middle" xml:space="preserve">5</text>
<text transform="translate(772.50,58.70) scale(1.07,1)" class="tl" font-size="40" text-anchor="end" xml:space="preserve">1</text>
<rect x="1064.8" y="67.5" width="246.00" height="173.70" class="lbox"/>
<line x1="1081.2" y1="93" x2="1158.70" y2="93" stroke="#ff0000" stroke-width="5.2" stroke-dasharray="4.56 3.55"/>
<text transform="translate(1169.20,105.90) scale(1.155,1)" class="lt" font-size="33.8" text-anchor="start" xml:space="preserve">Pe = 1.0</text>
<line x1="1081.2" y1="133.5" x2="1165.20" y2="133.5" stroke="#00ff00" stroke-width="5.2" stroke-dasharray="16.49 15.95"/>
<text transform="translate(1169.20,146.40) scale(1.155,1)" class="lt" font-size="33.8" text-anchor="start" xml:space="preserve">Pe = 2.0</text>
<line x1="1081.2" y1="175.1" x2="1165.20" y2="175.1" stroke="#0000ff" stroke-width="5.2" stroke-dasharray="16.49 3.91 7.05 4.99"/>
<text transform="translate(1169.20,188.00) scale(1.155,1)" class="lt" font-size="33.8" text-anchor="start" xml:space="preserve">Pe = 3.0</text>
<line x1="1081.2" y1="216.2" x2="1165.20" y2="216.2" stroke="#00ffff" stroke-width="5.2"/>
<text transform="translate(1169.20,229.10) scale(1.155,1)" class="lt" font-size="33.8" text-anchor="start" xml:space="preserve">Pe = 4.0</text>
<line x1="897.40" y1="508.50" x2="858.36" y2="574.17" stroke="#000" stroke-width="2"/>
<polygon points="846.10,594.80 852.66,563.80 858.36,574.17 870.20,574.22" fill="#000"/>
<text transform="translate(683.10,32.50) scale(0.955,1)" class="pl" font-size="43.4" text-anchor="start" xml:space="preserve">B</text>
<text transform="translate(699.90,350.60) rotate(-90) scale(0.995,1)" class="tl" font-size="41.5" text-anchor="middle" xml:space="preserve">χ(η)</text>
<text transform="translate(1072.50,759.20) scale(1.18,1)" class="tl" font-size="38" text-anchor="middle" xml:space="preserve">η</text>
</g>
</svg></body></html>
